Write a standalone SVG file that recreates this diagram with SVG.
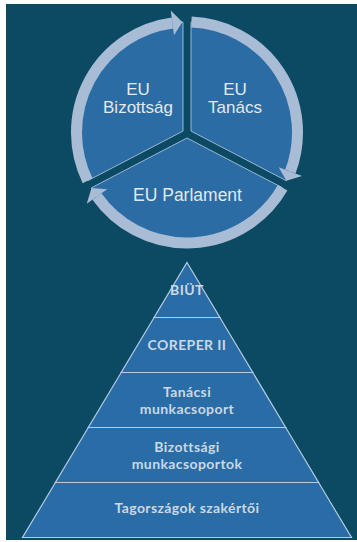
<svg xmlns="http://www.w3.org/2000/svg" width="357" height="542" viewBox="0 0 357 542">
  <style>
    .piece { fill: #2b6ca4; stroke: #9db6d4; stroke-width: 1; }
    .ring { fill: none; stroke: #a9bcd5; stroke-width: 11; stroke-linecap: butt; }
    .head { fill: #a9bcd5; }
    .ctext { font-family: "Liberation Sans", Arial, sans-serif; font-size: 17px; fill: #e1e9f1; text-anchor: middle; }
    .layer { fill: #2a6ca5; stroke: #b3cbe4; stroke-width: 1.2; }
    .ptext { font-family: Lato, "Open Sans", sans-serif; font-weight: bold; font-size: 14px; letter-spacing: 0.4px; fill: #cbd8e5; text-anchor: middle; }
  </style>
  <rect x="6" y="4" width="351" height="536" fill="#0b4a62"/>

  <g id="node-bizottsag">
    <path class="piece" d="M183,131.07 L183,22.07 A110.5,110.5 0 0 0 87.61,180.76 Z"/>
    <text class="ctext" x="138" y="95">EU</text>
    <text class="ctext" x="138" y="112.5">Bizottság</text>
  </g>
  <g id="node-tanacs">
    <path class="piece" d="M191,131.07 L191,22.07 A110.5,110.5 0 0 1 286.39,180.76 Z"/>
    <text class="ctext" x="235" y="95">EU</text>
    <text class="ctext" x="235" y="113">Tanács</text>
  </g>
  <g id="node-parlament">
    <path class="piece" d="M187,138.01 L282.64,187.83 A110.5,110.5 0 0 1 91.36,187.83 Z"/>
    <text class="ctext" x="187.5" y="201" style="font-size:17.5px">EU Parlament</text>
  </g>

  <g id="connectors">
    <path class="ring" d="M87.59,180.77 A110.5,110.5 0 0 1 172.38,22.97"/>
    <polygon class="head" points="174.03,35.36 170.73,10.58 182.37,22.10"/>
    <path class="ring" d="M191.43,22.09 A110.5,110.5 0 0 1 290.37,171.56"/>
    <polygon class="head" points="278.67,167.14 302.06,175.98 286.40,180.77"/>
    <path class="ring" d="M282.65,187.83 A110.5,110.5 0 0 1 96.93,196.51"/>
    <polygon class="head" points="107.12,189.27 86.74,203.75 91.50,188.08"/>
  </g>

  <g id="pyramid">
    <g id="layer-biut">
      <polygon class="layer" points="187,262.5 219.9,317.5 154.1,317.5"/>
      <text class="ptext" x="187" y="295">BIÜT</text>
    </g>
    <g id="layer-coreper">
      <polygon class="layer" points="154.1,317.5 219.9,317.5 252.8,372.5 121.2,372.5"/>
      <text class="ptext" x="187" y="350">COREPER II</text>
    </g>
    <g id="layer-tanacsi">
      <polygon class="layer" points="121.2,372.5 252.8,372.5 285.7,427.5 88.3,427.5"/>
      <text class="ptext" x="187" y="397">Tanácsi</text>
      <text class="ptext" x="187" y="414">munkacsoport</text>
    </g>
    <g id="layer-bizottsagi">
      <polygon class="layer" points="88.3,427.5 285.7,427.5 318.6,482.5 55.4,482.5"/>
      <text class="ptext" x="187" y="452">Bizottsági</text>
      <text class="ptext" x="187" y="469">munkacsoportok</text>
    </g>
    <g id="layer-tagorszagok">
      <polygon class="layer" points="55.4,482.5 318.6,482.5 351.5,537.5 22.5,537.5"/>
      <text class="ptext" x="187" y="513">Tagországok szakértői</text>
    </g>
  </g>
</svg>
